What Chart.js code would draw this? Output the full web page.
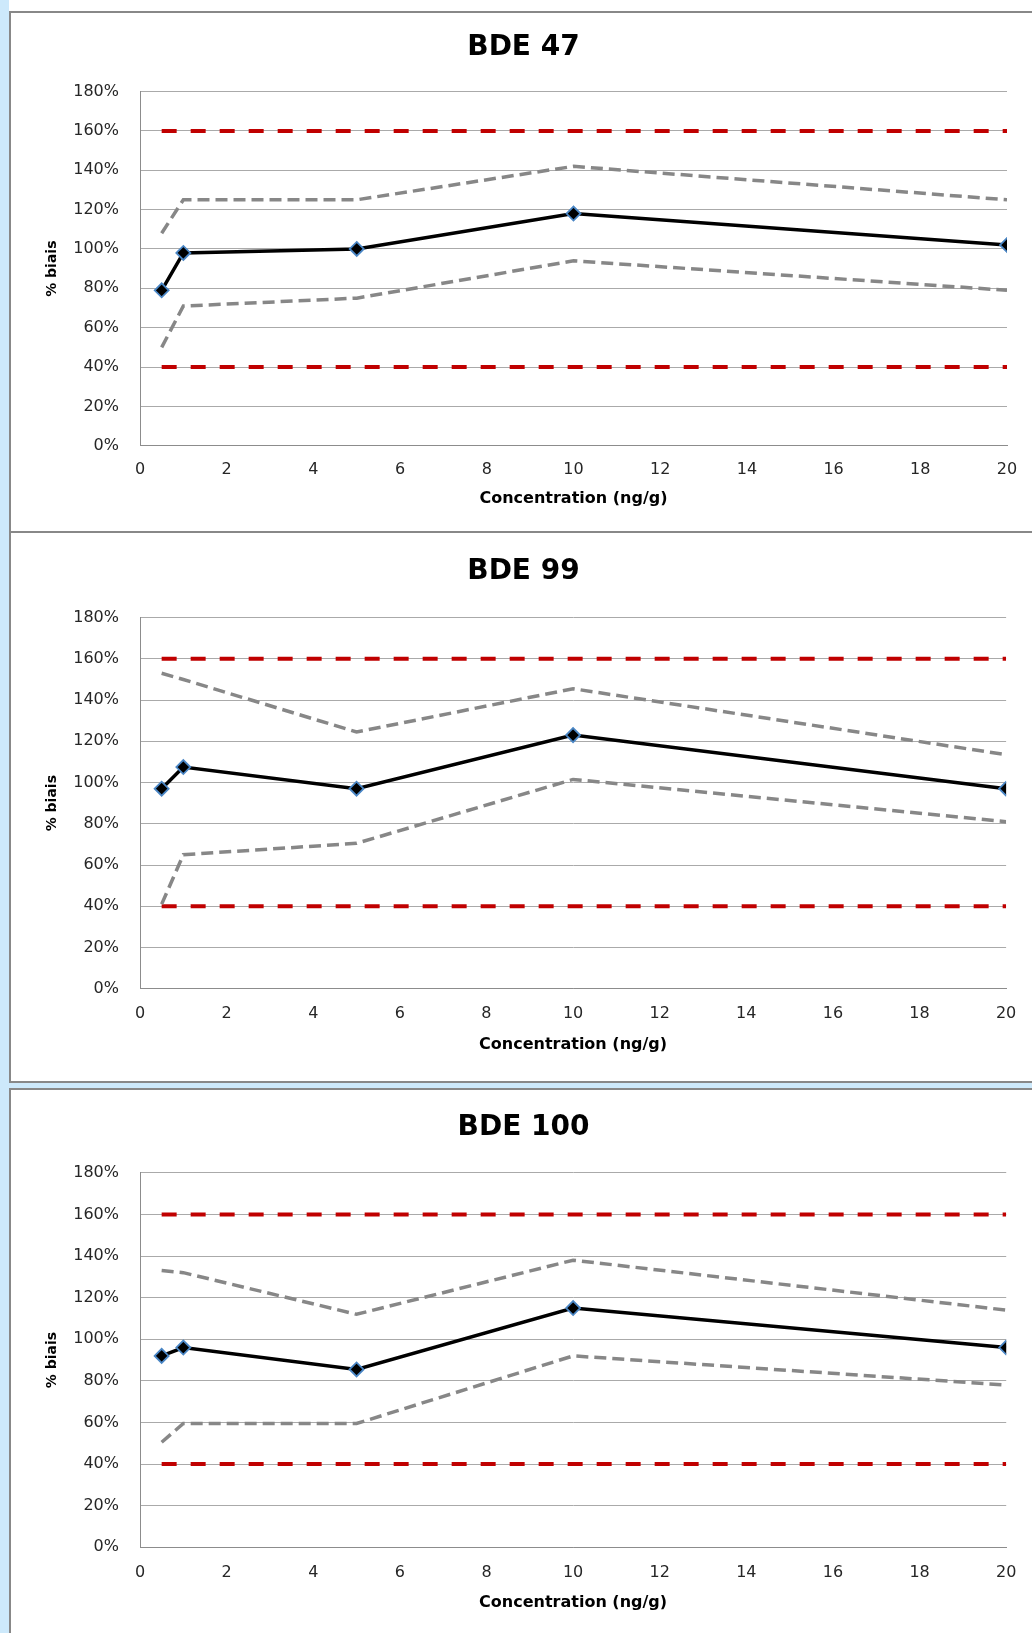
<!DOCTYPE html>
<html>
<head>
<meta charset="utf-8">
<script src="https://cdn.jsdelivr.net/npm/chart.js@4/dist/chart.umd.min.js"></script>
<style>
  html, body { margin: 0; padding: 0; background: #fff; width: 1032px; height: 1633px; overflow: hidden; position: relative; font-family: 'DejaVu Sans', sans-serif; }
  .strip { position: absolute; background: #cde9fb; }
  .panel { position: absolute; left: 9px; width: 1100px; border: 2px solid #888; background: #fff; box-sizing: border-box; }
  canvas { position: absolute; left: 40px; }
</style>
</head>
<body>
<div class="strip" style="left:0;top:0;width:9px;height:1633px"></div>
<div class="strip" style="left:0;top:1083px;width:1032px;height:5px"></div>
<div class="panel" style="top:11px;height:522px"></div>
<div class="panel" style="top:531px;height:552px"></div>
<div class="panel" style="top:1088px;height:600px"></div>

<canvas id="chart47" width="992" height="516" style="top:14px"></canvas>
<canvas id="chart99" width="992" height="546" style="top:534px"></canvas>
<canvas id="chart100" width="992" height="542" style="top:1091px"></canvas>

<script>
// concentrations (ng/g) and % bias
const concentrations = [0.5, 1, 5, 10, 20];
const limitX = [0.5, 20];
const limitHigh = [160, 160];
const limitLow = [40, 40];
const xTicks = [0, 2, 4, 6, 8, 10, 12, 14, 16, 18, 20];
const yTicks = [0, 20, 40, 60, 80, 100, 120, 140, 160, 180];

const bde47Bias  = [79, 98, 100, 118, 102];
const bde47Upper = [108, 125, 125, 142, 125];
const bde47Lower = [50, 71, 75, 94, 79];

const bde99Bias  = [97, 107.5, 97, 123, 97];
const bde99Upper = [153, 150, 124.5, 145.5, 113.5];
const bde99Lower = [41, 65, 70.5, 101.5, 81];

const bde100Bias  = [92, 96, 85.5, 115, 96];
const bde100Upper = [133, 132, 112, 138, 114];
const bde100Lower = [50.5, 59.5, 59.5, 92, 78];

const FONT = "'DejaVu Sans', sans-serif";

function pts(xs, ys) {
  return xs.map((x, i) => ({ x: x, y: ys[i] }));
}

function makeChart(id, title, bias, upper, lower, g) {
  const limitStyle = { borderColor: '#c00000', borderWidth: 4, borderDash: [15, 14], pointRadius: 0, fill: false };
  const bandStyle = { borderColor: '#878787', borderWidth: 3.5, borderDash: [12, 6], pointRadius: 0, fill: false };
  return new Chart(document.getElementById(id), {
    type: 'line',
    data: {
      datasets: [
        { label: '% biais', data: pts(concentrations, bias), borderColor: '#000', borderWidth: 3.5,
          pointStyle: 'rectRot', pointRadius: 7, pointBackgroundColor: '#000',
          pointBorderColor: '#4a86c5', pointBorderWidth: 1.8, fill: false },
        Object.assign({ label: 'sup', data: pts(concentrations, upper) }, bandStyle),
        Object.assign({ label: 'inf', data: pts(concentrations, lower) }, bandStyle),
        Object.assign({ label: 'limite haute', data: pts(limitX, limitHigh) }, limitStyle),
        Object.assign({ label: 'limite basse', data: pts(limitX, limitLow) }, limitStyle)
      ]
    },
    options: {
      responsive: false,
      animation: false,
      devicePixelRatio: 1,
      layout: { padding: { top: 0, left: 0, right: 25, bottom: g.padBottom } },
      plugins: {
        legend: { display: false },
        tooltip: { enabled: false },
        title: { display: true, text: title, color: '#000',
          font: { family: FONT, size: 28, weight: 'bold', lineHeight: 1.2 },
          padding: { top: g.titleTop, bottom: g.titleBottom } }
      },
      scales: {
        x: {
          type: 'linear', min: 0, max: 20,
          afterFit: s => { s.height = 70; },
          afterBuildTicks: s => { s.ticks = xTicks.map(v => ({ value: v })); },
          grid: { color: 'transparent', drawTicks: false },
          border: { display: true, color: '#8c8c8c', width: 1 },
          ticks: { padding: g.xTickPad, color: '#262626', font: { family: FONT, size: 16 } },
          title: { display: true, text: 'Concentration (ng/g)', color: '#000',
            font: { family: FONT, size: 16, weight: 'bold', lineHeight: 1.2 },
            padding: { top: 0, bottom: g.xTitlePad } }
        },
        y: {
          min: 0, max: 180,
          afterFit: s => { s.width = 100; },
          afterBuildTicks: s => { s.ticks = yTicks.map(v => ({ value: v })); },
          grid: { color: '#aaaaaa', lineWidth: 1, drawTicks: false },
          border: { display: true, color: '#8c8c8c', width: 1 },
          ticks: { padding: 21, color: '#262626', font: { family: FONT, size: 16 }, callback: v => v + '%' },
          title: { display: true, text: '% biais', color: '#000',
            font: { family: FONT, size: 14, weight: 'bold', lineHeight: 1.2 },
            padding: { top: 3.6, bottom: 0 } }
        }
      }
    }
  });
}

makeChart('chart47', 'BDE 47', bde47Bias, bde47Upper, bde47Lower,
  { titleTop: 17.2, titleBottom: 26.8, xTickPad: 14.4, xTitlePad: 7.3, padBottom: 14.3 });
makeChart('chart99', 'BDE 99', bde99Bias, bde99Upper, bde99Lower,
  { titleTop: 20.9, titleBottom: 29.1, xTickPad: 15.7, xTitlePad: 4.6, padBottom: 21.3 });
makeChart('chart100', 'BDE 100', bde100Bias, bde100Upper, bde100Lower,
  { titleTop: 20, titleBottom: 28.2, xTickPad: 15.6, xTitlePad: 5, padBottom: 15.7 });
</script>
</body>
</html>
